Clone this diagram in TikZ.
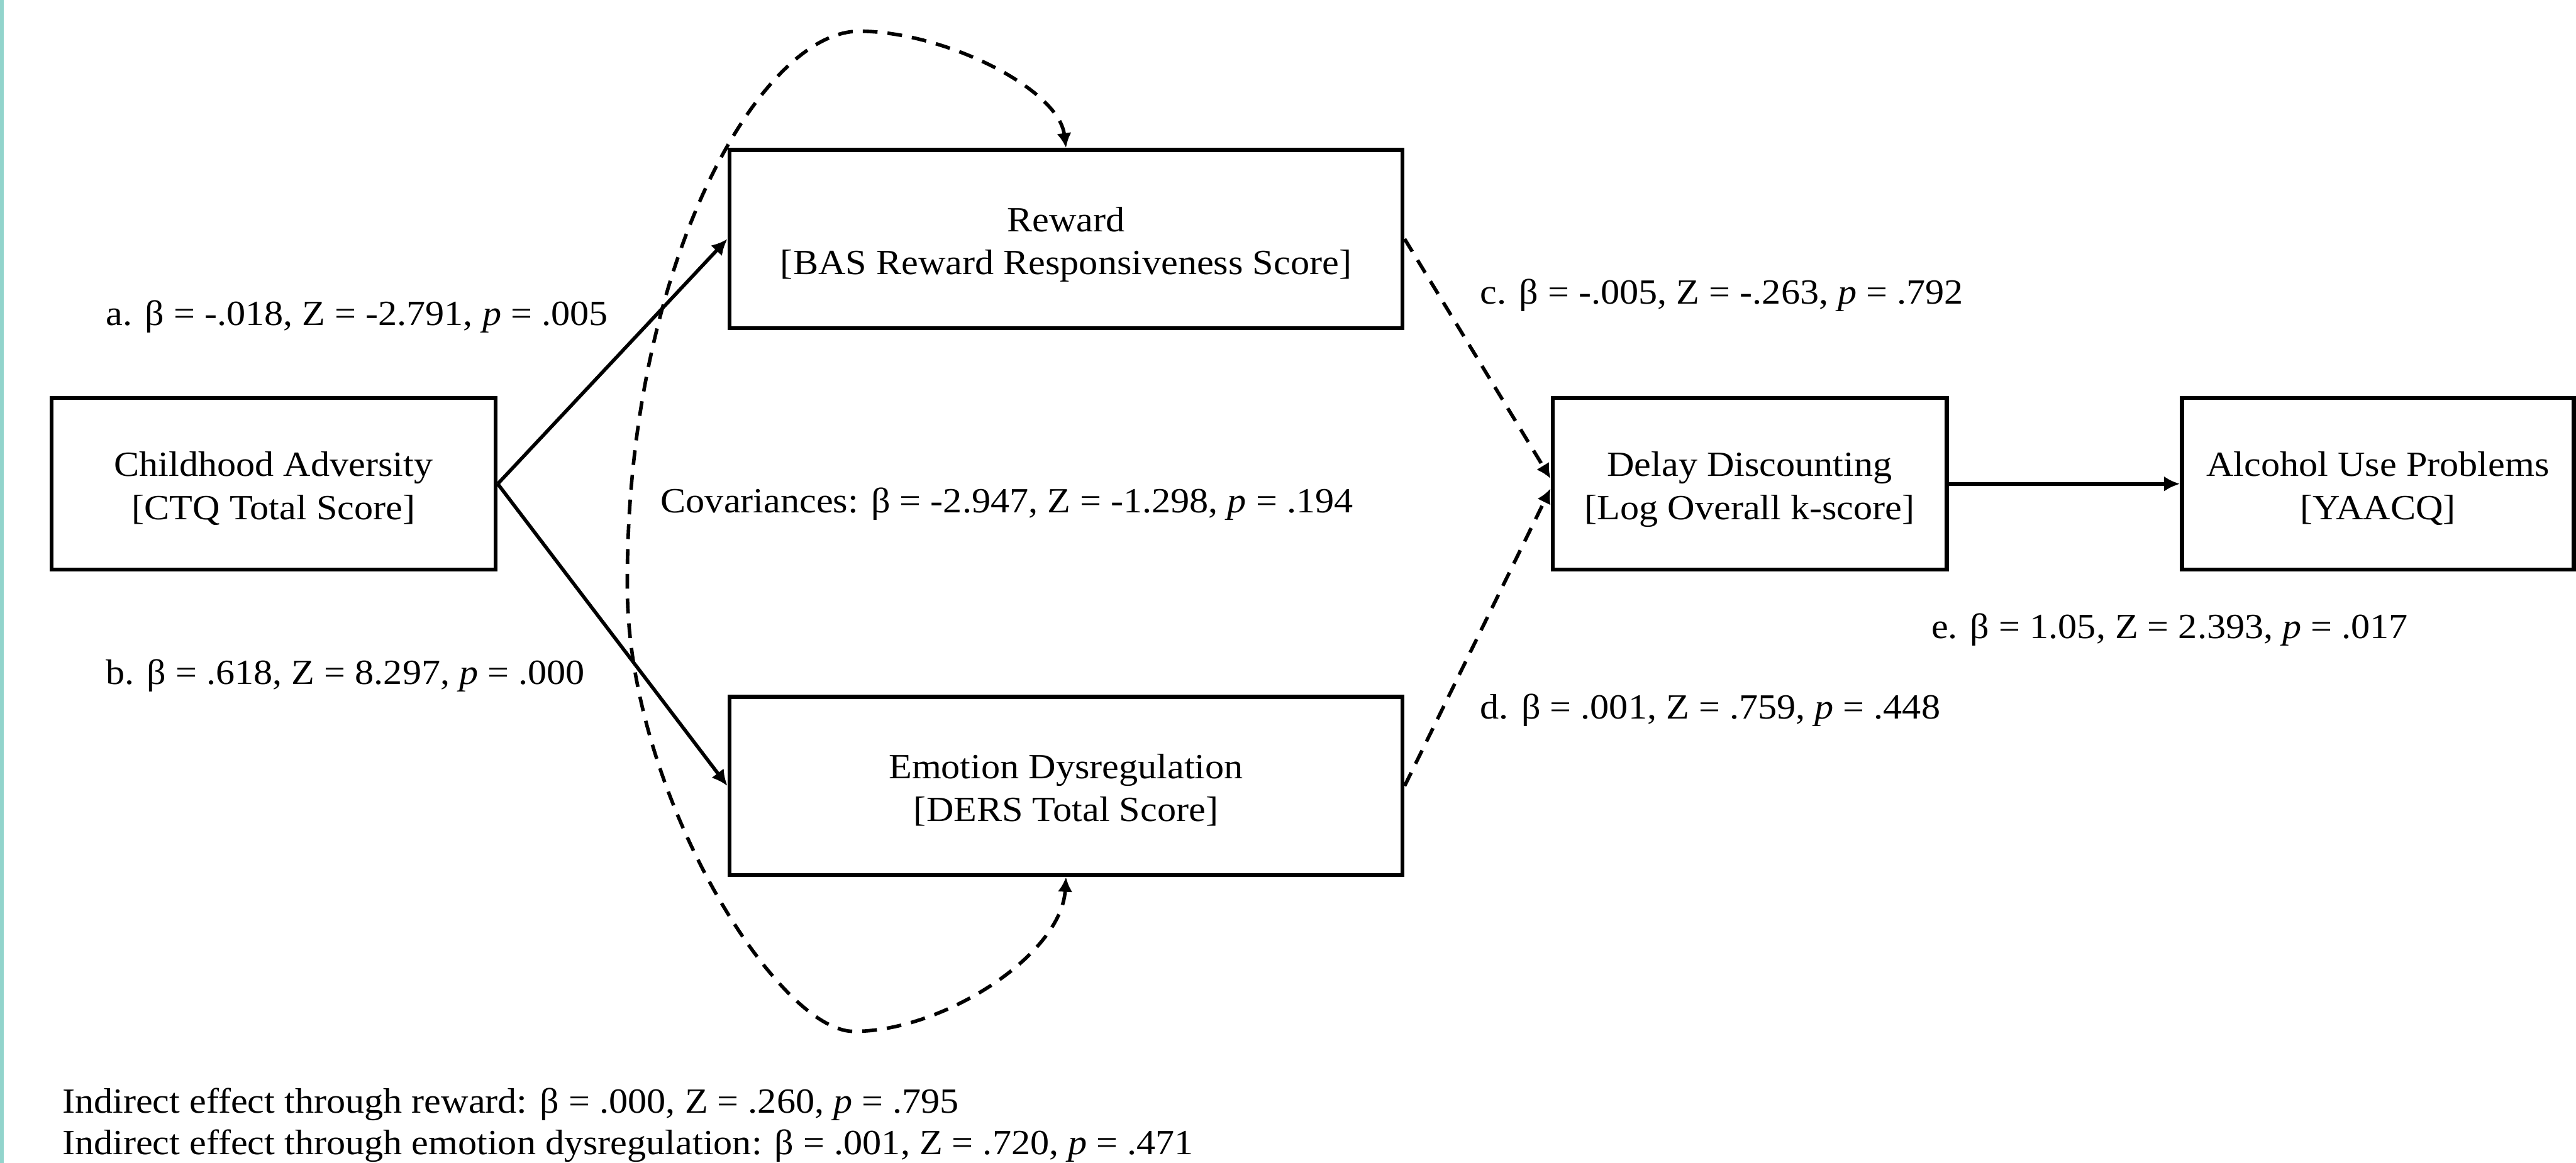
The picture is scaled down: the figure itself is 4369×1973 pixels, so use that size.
\documentclass[tikz,border=0pt]{standalone}
\usepackage{fontspec}
\setmainfont[FakeStretch=1.07]{Liberation Serif}
\usetikzlibrary{arrows.meta,calc}
\definecolor{tealbar}{RGB}{146,212,204}
\newcommand{\twolines}[2]{\raisebox{-0.09cm}[\height][\depth]{\begin{tabular}{@{}c@{}}#1\\#2\end{tabular}}}
\begin{document}
\begin{tikzpicture}[x=0.01cm,y=-0.01cm,
  every node/.style={font=\fontsize{17.07}{20.8}\selectfont},
  varbox/.style={draw,line width=0.07cm,inner sep=0pt,align=center},
  solidarrow/.style={line width=0.06cm,-{Latex[length=0.27cm,width=0.26cm]}},
  dasharrow/.style={line width=0.06cm,dash pattern=on 0.25cm off 0.17cm,-{Latex[length=0.25cm,width=0.25cm]}},
  dashcurve/.style={line width=0.06cm,dash pattern=on 0.25cm off 0.17cm,{Latex[length=0.25cm,width=0.25cm]}-{Latex[length=0.25cm,width=0.25cm]}},
  lbl/.style={anchor=base west,inner sep=0pt}]
\useasboundingbox (0,0) rectangle (4369,1973);
\fill[tealbar] (0,0) rectangle (6,1973);

\node[varbox,minimum width=7.53cm,minimum height=2.91cm] (child) at (464,821) {\twolines{Childhood Adversity}{{[}CTQ Total Score{]}}};
\node[varbox,minimum width=11.41cm,minimum height=3.02cm] (reward) at (1808,405.5) {\twolines{Reward}{{[}BAS Reward Responsiveness Score{]}}};
\node[varbox,minimum width=11.41cm,minimum height=3.02cm] (emotion) at (1808,1333.5) {\twolines{Emotion Dysregulation}{{[}DERS Total Score{]}}};
\node[varbox,minimum width=6.68cm,minimum height=2.91cm] (delay) at (2967.5,821) {\twolines{Delay Discounting}{{[}Log Overall k-score{]}}};
\node[varbox,minimum width=6.64cm,minimum height=2.91cm] (alcohol) at (4033,821) {\twolines{Alcohol Use Problems}{{[}YAACQ{]}}};

\draw[solidarrow] (child.east) -- (reward.west);
\draw[solidarrow] (child.east) -- (emotion.west);
\draw[dasharrow] (reward.east) -- ($(delay.west)+(0,-9)$);
\draw[dasharrow] (emotion.east) -- ($(delay.west)+(0,8)$);
\draw[solidarrow] (delay.east) -- (alcohol.west);

\draw[dashcurve] (reward.north) .. controls (1795,150) and (1600,53) .. (1457,53)
  .. controls (1290,53) and (1060,450) .. (1064,1000)
  .. controls (1066,1350) and (1320,1750) .. (1448,1750)
  .. controls (1600,1750) and (1800,1620) .. (emotion.south);

\node[lbl] (la) at (179,552) {a. β = -.018, Z = -2.791, \textit{p} = .005};
\node[lbl] (lb) at (179,1161) {b. β = .618, Z = 8.297, \textit{p} = .000};
\node[lbl] (lcov) at (1120,870) {Covariances: β = -2.947, Z = -1.298, \textit{p} = .194};
\node[lbl] (lc) at (2510,516) {c. β = -.005, Z = -.263, \textit{p} = .792};
\node[lbl] (ld) at (2510,1220) {d. β = .001, Z = .759, \textit{p} = .448};
\node[lbl] (le) at (3275,1083) {e. β = 1.05, Z = 2.393, \textit{p} = .017};
\node[lbl] (ind1) at (105,1888) {Indirect effect through reward: β = .000, Z = .260, \textit{p} = .795};
\node[lbl] (ind2) at (105,1959) {Indirect effect through emotion dysregulation: β = .001, Z = .720, \textit{p} = .471};
\end{tikzpicture}
\end{document}
